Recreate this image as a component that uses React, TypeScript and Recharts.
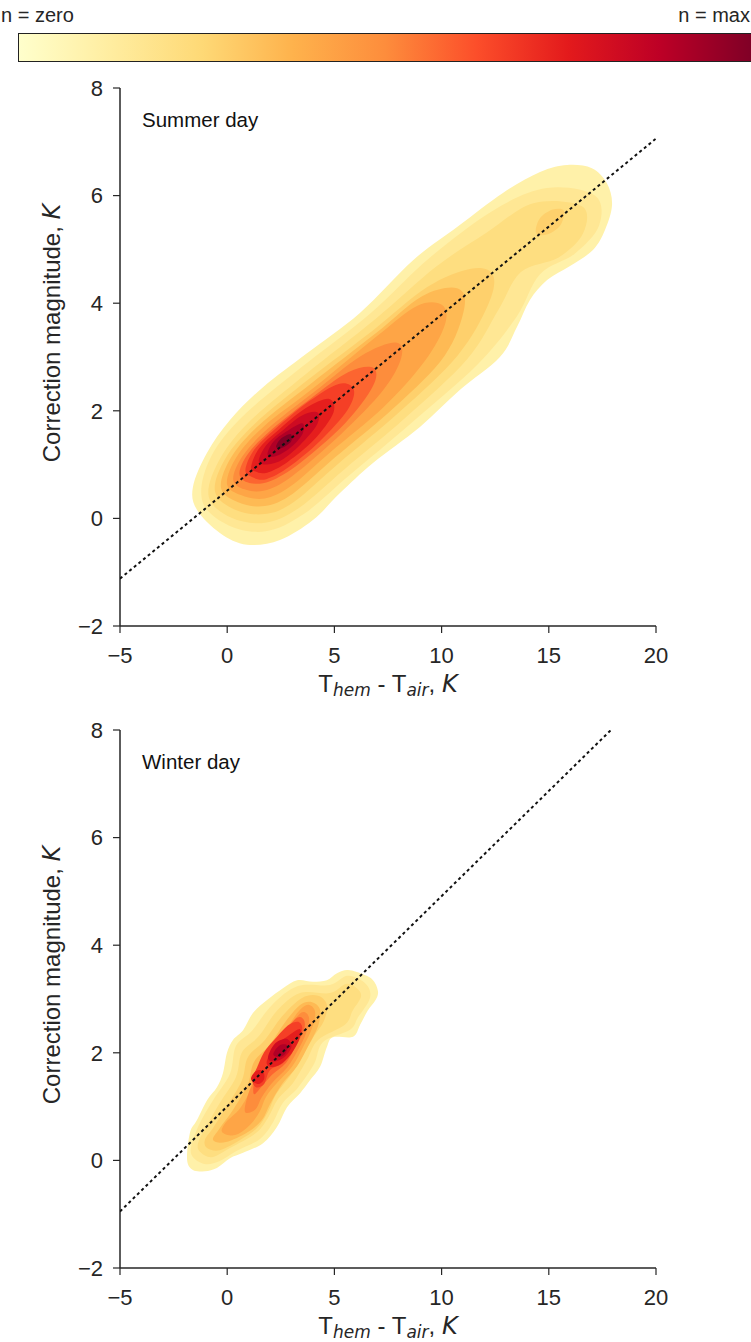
import React from 'react';
import { ScatterChart, Scatter, XAxis, YAxis, Label } from 'recharts';

type Poly = [number, number][];
type Pt = { x: number; y: number };

const X_TICKS = [-5, 0, 5, 10, 15, 20];
const Y_TICKS = [-2, 0, 2, 4, 6, 8];

// dotted fit lines, read where they meet the frame
const summerFit: Pt[] = [{ x: -5, y: -1.12 }, { x: 20, y: 7.06 }];
const winterFit: Pt[] = [{ x: -5, y: -0.95 }, { x: 17.9, y: 8 }];

// KDE fill contours, outermost level first.
// a level can hold more than one polygon (islands)
const summerContours: Poly[][] = [
  [[[-1.6, 0.58], [-0.94, 1.22], [0.13, 1.83], [1.67, 2.44], [3.72, 3.07], [6.19, 3.82], [8.67, 4.8], [10.77, 5.43], [12.86, 6.05], [14.59, 6.44], [15.85, 6.57], [17.01, 6.51], [17.71, 6.23], [17.95, 5.83], [17.62, 5.36], [17.06, 4.99], [15.99, 4.69], [14.92, 4.43], [14.12, 4.06], [13.52, 3.56], [12.72, 3.0], [10.86, 2.39], [8.99, 1.7], [6.8, 1.03], [5.26, 0.47], [4.0, -0.03], [2.46, -0.4], [0.92, -0.49], [-0.34, -0.27], [-1.41, 0.16]]],
  [[[-1.15, 0.31], [-0.87, 1.05], [0.55, 1.83], [3.4, 2.79], [6.7, 3.82], [9.43, 4.84], [12.43, 5.73], [14.91, 6.14], [17.15, 6.0], [17.35, 5.45], [16.21, 4.92], [14.59, 4.54], [13.5, 3.75], [11.7, 2.87], [8.55, 1.76], [5.7, 0.8], [3.57, 0.08], [1.8, -0.24], [0.07, -0.13]]],
  [[[-0.86, 0.4], [-0.4, 1.06], [0.96, 1.77], [3.63, 2.67], [6.93, 3.71], [9.75, 4.68], [12.09, 5.31], [14.28, 5.86], [16.55, 5.8], [16.6, 5.3], [15.46, 4.85], [13.7, 4.58], [12.64, 3.87], [11.19, 2.96], [8.31, 1.87], [5.46, 0.91], [3.33, 0.19], [1.77, -0.08], [0.2, 0.01]]],
  [
    [[-0.57, 0.5], [-0.09, 1.11], [1.29, 1.76], [3.81, 2.59], [6.78, 3.49], [9.33, 4.3], [11.37, 4.64], [12.4, 4.52], [12.16, 3.96], [10.75, 3.03], [8.07, 1.99], [5.22, 1.03], [3.09, 0.3], [1.75, 0.08], [0.37, 0.16]],
    [[14.41, 5.3], [14.57, 5.57], [15.18, 5.74], [15.7, 5.72], [15.54, 5.45], [14.94, 5.28]],
  ],
  [[[-0.29, 0.57], [0.18, 1.13], [1.48, 1.73], [3.96, 2.52], [6.9, 3.43], [9.09, 4.13], [10.72, 4.28], [11.06, 3.91], [10.15, 3.03], [7.87, 2.09], [5.02, 1.13], [3.06, 0.46], [1.75, 0.23], [0.51, 0.3]]],
  [[[-0.01, 0.64], [0.45, 1.15], [1.71, 1.71], [4.11, 2.45], [6.99, 3.39], [8.85, 3.95], [10.01, 3.97], [10.16, 3.61], [9.19, 2.91], [7.3, 2.07], [4.81, 1.23], [2.97, 0.6], [1.75, 0.37], [0.67, 0.43]]],
  [[[0.28, 0.73], [0.72, 1.16], [1.9, 1.67], [4.02, 2.34], [6.24, 3.02], [7.85, 3.27], [8.12, 2.99], [7.27, 2.38], [5.32, 1.57], [3.01, 0.78], [1.75, 0.52], [0.8, 0.54]]],
  [[[0.57, 0.83], [0.99, 1.21], [2.1, 1.66], [3.93, 2.24], [5.66, 2.72], [6.81, 2.8], [6.8, 2.46], [5.5, 1.77], [3.4, 1.03], [1.99, 0.69], [1.03, 0.66]]],
  [[[0.85, 0.9], [1.25, 1.27], [2.26, 1.67], [3.83, 2.18], [5.2, 2.5], [5.9, 2.4], [5.62, 2.02], [4.33, 1.44], [2.89, 0.96], [1.82, 0.73], [1.15, 0.77]]],
  [[[1.12, 0.97], [1.5, 1.31], [2.38, 1.64], [3.67, 2.05], [4.75, 2.22], [4.95, 1.96], [4.05, 1.46], [2.82, 1.05], [1.86, 0.85], [1.32, 0.87]]],
  [[[1.47, 1.07], [1.82, 1.36], [2.54, 1.62], [3.47, 1.91], [4.22, 1.97], [4.17, 1.73], [3.41, 1.37], [2.52, 1.08], [1.8, 1.0]]],
  [[[1.88, 1.19], [2.14, 1.42], [2.74, 1.61], [3.5, 1.77], [3.5, 1.56], [2.93, 1.31], [2.22, 1.15]]],
  [[[2.28, 1.33], [2.5, 1.48], [2.95, 1.57], [2.98, 1.43], [2.55, 1.31]]],
];

const winterContours: Poly[][] = [
  [[[-1.87, 0.01], [-1.6, -0.18], [-1.04, -0.2], [-0.48, -0.14], [0.13, 0.04], [0.74, 0.14], [1.67, 0.32], [2.32, 0.62], [2.79, 0.99], [3.4, 1.25], [3.86, 1.49], [4.33, 1.74], [4.65, 2.11], [4.93, 2.29], [5.87, 2.3], [6.2, 2.52], [6.55, 2.78], [6.92, 2.98], [7.03, 3.15], [6.75, 3.37], [6.05, 3.5], [5.59, 3.54], [5.12, 3.48], [4.65, 3.35], [4.0, 3.32], [3.26, 3.35], [2.6, 3.2], [1.86, 2.98], [1.2, 2.74], [0.74, 2.42], [0.27, 2.24], [-0.01, 2.0], [-0.2, 1.62], [-0.48, 1.36], [-0.94, 1.12], [-1.41, 0.75], [-1.74, 0.51]]],
  [[[-1.55, 0.04], [-0.99, -0.07], [-0.34, -0.01], [0.41, 0.17], [1.53, 0.4], [2.14, 0.71], [2.6, 1.07], [3.3, 1.35], [4.05, 1.79], [4.47, 2.2], [5.73, 2.43], [6.1, 2.66], [6.66, 3.02], [6.47, 3.28], [5.63, 3.43], [4.79, 3.26], [3.3, 3.24], [2.09, 2.89], [1.16, 2.41], [0.41, 2.13], [0.13, 1.61], [-0.66, 1.12], [-1.32, 0.66], [-1.69, 0.23]]],
  [[[-1.27, 0.16], [-0.71, 0.06], [0.13, 0.23], [1.34, 0.51], [1.9, 0.79], [2.37, 1.14], [3.07, 1.44], [3.72, 1.87], [4.24, 2.24], [5.49, 2.52], [5.85, 2.78], [6.24, 3.04], [6.05, 3.2], [5.54, 3.28], [4.79, 3.11], [3.4, 3.11], [2.32, 2.78], [1.48, 2.31], [0.69, 2.01], [0.41, 1.55], [-0.34, 1.07], [-0.99, 0.62], [-1.36, 0.32]]],
  [[[-0.94, 0.23], [-0.34, 0.19], [0.6, 0.38], [1.39, 0.6], [1.9, 0.9], [2.28, 1.23], [2.93, 1.57], [3.49, 1.92], [4.05, 2.31], [4.51, 2.59], [4.65, 2.89], [4.24, 3.06], [3.49, 3.02], [2.56, 2.68], [1.76, 2.24], [0.97, 1.92], [0.69, 1.49], [-0.01, 1.01], [-0.66, 0.6], [-1.04, 0.38]]],
  [[[-0.66, 0.38], [-0.06, 0.34], [0.97, 0.53], [1.62, 0.75], [2.0, 1.05], [2.56, 1.42], [3.26, 1.75], [3.82, 2.16], [4.24, 2.5], [4.33, 2.8], [3.96, 2.94], [3.4, 2.89], [2.7, 2.57], [2.0, 2.16], [1.25, 1.83], [0.97, 1.42], [0.32, 0.97], [-0.34, 0.6]]],
  [[[-0.24, 0.53], [0.36, 0.47], [1.06, 0.66], [1.53, 0.92], [1.81, 1.18], [2.37, 1.46], [3.02, 1.74], [3.54, 2.11], [3.96, 2.46], [4.1, 2.76], [3.82, 2.89], [3.4, 2.8], [2.84, 2.5], [2.09, 2.13], [1.44, 1.79], [1.16, 1.38], [0.6, 0.97], [-0.06, 0.71]]],
  [[[0.83, 0.9], [1.3, 0.94], [1.62, 1.18], [2.09, 1.44], [2.79, 1.72], [3.3, 2.05], [3.68, 2.37], [3.82, 2.65], [3.54, 2.76], [3.12, 2.61], [2.37, 2.24], [1.62, 1.9], [1.3, 1.53], [0.97, 1.22]]],
  [[[1.25, 1.23], [1.62, 1.38], [2.09, 1.59], [2.74, 1.81], [3.21, 2.13], [3.58, 2.42], [3.58, 2.61], [3.26, 2.65], [2.6, 2.37], [1.9, 2.05], [1.44, 1.74], [1.25, 1.46]]],
  [[[1.34, 1.36], [1.72, 1.42], [2.0, 1.68], [2.65, 1.83], [3.07, 2.14], [3.49, 2.42], [3.35, 2.57], [2.88, 2.52], [2.28, 2.28], [1.72, 2.01], [1.39, 1.72], [1.16, 1.51]]],
  [
    [[1.11, 1.51], [1.34, 1.66], [1.67, 1.66], [1.72, 1.51], [1.44, 1.42]],
    [[1.85, 1.85], [2.3, 2.14], [2.9, 2.33], [3.4, 2.44], [3.35, 2.24], [2.95, 1.96], [2.45, 1.78], [2.0, 1.74]],
  ],
  [[[1.9, 1.9], [2.2, 2.16], [2.75, 2.26], [3.0, 2.12], [2.7, 1.93], [2.25, 1.84]]],
  [[[2.15, 1.98], [2.45, 2.14], [2.8, 2.14], [2.7, 1.98], [2.4, 1.92]]],
];

// fill of each level, as a position along the YlOrRd map
const LEVEL_T = [0.1, 0.16, 0.22, 0.28, 0.35, 0.42, 0.5, 0.58, 0.66, 0.74, 0.82, 0.9, 1.0];
const YLORRD = ['#ffffcc', '#ffeda0', '#fed976', '#feb24c', '#fd8d3c', '#fc4e2a', '#e31a1c', '#bd0026', '#800026'];

const FONT = '"Liberation Sans", Arial, sans-serif';
const MATH = '"DejaVu Sans", sans-serif';
const INK = '#262626';

const hex = (h: string) => [1, 3, 5].map((i) => parseInt(h.slice(i, i + 2), 16));

function ylorrd(t: number) {
  const s = Math.min(Math.max(t, 0), 1) * (YLORRD.length - 1);
  const i = Math.min(Math.floor(s), YLORRD.length - 2);
  const f = s - i;
  const a = hex(YLORRD[i]);
  const b = hex(YLORRD[i + 1]);
  const c = a.map((v, k) => Math.round(v + (b[k] - v) * f));
  return `rgb(${c[0]},${c[1]},${c[2]})`;
}

// closed catmull-rom through the points recharts has already scaled
function smoothClosed(pts: Pt[]) {
  const n = pts.length;
  if (n < 3) return '';
  let d = `M${pts[0].x},${pts[0].y}`;
  for (let i = 0; i < n; i++) {
    const p0 = pts[(i - 1 + n) % n];
    const p1 = pts[i];
    const p2 = pts[(i + 1) % n];
    const p3 = pts[(i + 2) % n];
    const c1x = p1.x + (p2.x - p0.x) / 6;
    const c1y = p1.y + (p2.y - p0.y) / 6;
    const c2x = p2.x - (p3.x - p1.x) / 6;
    const c2y = p2.y - (p3.y - p1.y) / 6;
    d += `C${c1x},${c1y} ${c2x},${c2y} ${p2.x},${p2.y}`;
  }
  return d + 'Z';
}

const noDot = () => <g />;
const blob = (fill: string) => (p: any) => (
  <path d={smoothClosed(p.points ?? [])} fill={fill} stroke="none" />
);

const fmt = (v: number) => (v < 0 ? `\u2212${Math.abs(v)}` : `${v}`);
const blank = () => '';

const SPINE = { stroke: INK, strokeWidth: 1.5 };
const TICK_LINE = { stroke: INK, strokeWidth: 1.2 };
const TICK_TEXT = { fill: INK, fontSize: 22, fontFamily: FONT };

const XTitle = (props: any) => {
  const vb = props.viewBox ?? { x: 120, y: 626, width: 536 };
  const cx = vb.x + vb.width / 2;
  const y = vb.y + 66;
  return (
    <text x={cx} y={y} textAnchor="middle" fontSize={24} fontFamily={FONT} fill={INK}>
      T
      <tspan fontFamily={MATH} fontStyle="italic" fontSize={17} dy={4}>hem</tspan>
      <tspan dy={-4}>{' - T'}</tspan>
      <tspan fontFamily={MATH} fontStyle="italic" fontSize={17} dy={4}>air</tspan>
      <tspan dy={-4}>{', '}</tspan>
      <tspan fontFamily={MATH} fontStyle="italic">K</tspan>
    </text>
  );
};

const YTitle = (props: any) => {
  const vb = props.viewBox ?? { x: 0, y: 88 };
  const x = vb.x + 60;
  const y = vb.y + 245;
  return (
    <text x={x} y={y} transform={`rotate(-90, ${x}, ${y})`} textAnchor="middle" fontSize={24} fontFamily={FONT} fill={INK}>
      {'Correction magnitude, '}
      <tspan fontFamily={MATH} fontStyle="italic">K</tspan>
    </text>
  );
};

function Panel({ top, contours, fit }: { top: number; contours: Poly[][]; fit: Pt[] }) {
  return (
    <div style={{ position: 'absolute', left: 0, top, width: 751, height: 700 }}>
      <ScatterChart width={751} height={700} margin={{ top: 88, right: 95, bottom: 0, left: 0 }}>
        <XAxis type="number" dataKey="x" domain={[-5, 20]} ticks={X_TICKS} allowDataOverflow interval={0}
          height={74} tickSize={7} tickMargin={14} tick={TICK_TEXT} tickFormatter={fmt}
          axisLine={SPINE} tickLine={TICK_LINE}>
          <Label content={XTitle} />
        </XAxis>
        <YAxis type="number" dataKey="y" domain={[-2, 8]} ticks={Y_TICKS} allowDataOverflow interval={0}
          width={120} tickSize={7} tickMargin={10} tick={TICK_TEXT} tickFormatter={fmt}
          axisLine={SPINE} tickLine={TICK_LINE}>
          <Label content={YTitle} />
        </YAxis>
        <XAxis xAxisId="top" orientation="top" mirror type="number" domain={[-5, 20]} ticks={X_TICKS}
          allowDataOverflow interval={0} height={0} tickSize={4} tickFormatter={blank}
          axisLine={SPINE} tickLine={TICK_LINE} />
        <YAxis yAxisId="right" orientation="right" mirror type="number" domain={[-2, 8]} ticks={Y_TICKS}
          allowDataOverflow interval={0} width={0} tickSize={4} tickFormatter={blank}
          axisLine={SPINE} tickLine={TICK_LINE} />
        {contours.flatMap((polys, level) =>
          polys.map((poly, j) => (
            <Scatter
              key={`lvl-${level}-${j}`}
              data={poly.map(([x, y]) => ({ x, y }))}
              shape={noDot}
              line={blob(ylorrd(LEVEL_T[level]))}
              lineType="joint"
              isAnimationActive={false}
            />
          ))
        )}
        <Scatter
          data={fit}
          shape={noDot}
          line={{ stroke: '#111', strokeWidth: 2, strokeDasharray: '3 3', fill: 'none' }}
          lineType="joint"
          isAnimationActive={false}
        />
      </ScatterChart>
    </div>
  );
}

export default function App() {
  return (
    <div style={{ position: 'absolute', left: 0, top: 0, width: 751, height: 1342, overflow: 'hidden', background: '#fff' }}>
      <Panel top={0} contours={summerContours} fit={summerFit} />
      <Panel top={642} contours={winterContours} fit={winterFit} />
      <svg width={751} height={1342} style={{ position: 'absolute', left: 0, top: 0, pointerEvents: 'none' }}>
        <defs>
          <linearGradient id="cbar" x1="0" x2="1" y1="0" y2="0">
            {YLORRD.map((c, i) => (
              <stop key={c} offset={i / (YLORRD.length - 1)} stopColor={c} />
            ))}
          </linearGradient>
        </defs>
        <rect x={18.5} y={33.5} width={733} height={28} fill="url(#cbar)" stroke="#222" strokeWidth={1} />
        <text x={1} y={22} fontSize={20} fontFamily={FONT} fill={INK}>n = zero</text>
        <text x={750} y={22} fontSize={20} fontFamily={FONT} fill={INK} textAnchor="end">n = max</text>
        <text x={142} y={127} fontSize={20.5} fontFamily={FONT} fill="#111">Summer day</text>
        <text x={142} y={769} fontSize={20.5} fontFamily={FONT} fill="#111">Winter day</text>
      </svg>
    </div>
  );
}
